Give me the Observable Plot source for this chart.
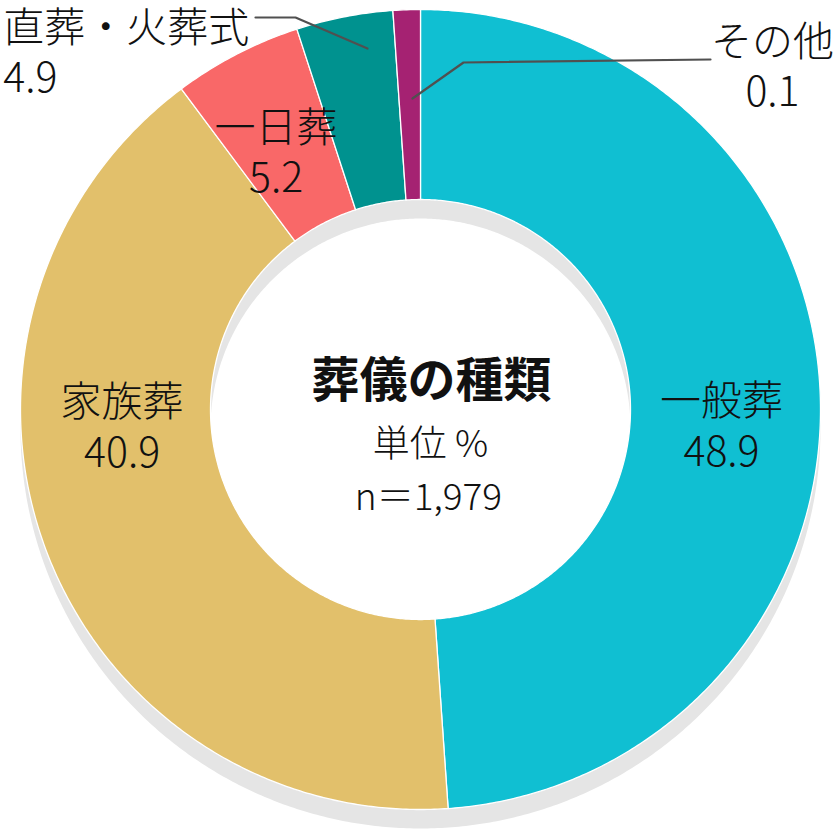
<!DOCTYPE html>
<html><head><meta charset="utf-8">
<script src="https://cdn.jsdelivr.net/npm/d3@7"></script>
<script src="https://cdn.jsdelivr.net/npm/@observablehq/plot@0.6"></script>
<style>
body{margin:0;background:#fff;}
#chart{width:840px;height:840px;}
</style>
</head><body><div id="chart"></div>
<script>
// ---- data ----
const categories = ["一般葬", "家族葬", "一日葬", "直葬・火葬式", "その他"];
const printedValues = [48.9, 40.9, 5.2, 4.9, 0.1];      // values printed on the labels
const arcShares = [48.9, 40.9, 5.2, 3.9, 1.1];          // arc widths as drawn in the picture
const colors = ["#10BFD2", "#E2C06B", "#F96868", "#00928F", "#A52272"];
const centerTitle = "葬儀の種類";
const centerUnit = "単位 %";
const centerN = "n＝1,979";

// ---- layout (unit circle coordinates, y down) ----
const R_IN = 0.525;
const labelLayout = [
  {pos: [0.7525, 0.0375], anchor: "middle"},
  {pos: [-0.746, 0.04], anchor: "middle"},
  {pos: [-0.361, -0.646], anchor: "middle"},
  {pos: [-1.043, -0.896], anchor: "start"},
  {pos: [0.88, -0.861], anchor: "middle"}
];
const leaders = [
  {cat: "直葬・火葬式", pts: [[-0.4125, -0.98], [-0.3125, -0.98], [-0.1325, -0.9025]]},
  {cat: "その他", pts: [[-0.02, -0.7775], [0.1075, -0.8675], [0.725, -0.875]]}
];

// ---- geometry built from the data ----
const total = d3.sum(arcShares);
const step = Math.PI / 360;
const slicePts = [];
let cum = 0;
categories.forEach((c, i) => {
  const a0 = cum / total * 2 * Math.PI;
  cum += arcShares[i];
  const a1 = cum / total * 2 * Math.PI;
  const n = Math.max(2, Math.ceil((a1 - a0) / step));
  const pts = [];
  for (let k = 0; k <= n; k++) { const a = a0 + (a1 - a0) * k / n; pts.push({cat: c, x: Math.sin(a), y: -Math.cos(a)}); }
  for (let k = n; k >= 0; k--) { const a = a0 + (a1 - a0) * k / n; pts.push({cat: c, x: R_IN * Math.sin(a), y: -R_IN * Math.cos(a)}); }
  pts.push({...pts[0]});
  slicePts.push(...pts);
});
const ring = [];
{
  const n = 720;
  for (let k = 0; k <= n; k++) { const a = 2 * Math.PI * k / n; ring.push({x: Math.sin(a), y: -Math.cos(a)}); }
  for (let k = n; k >= 0; k--) { const a = 2 * Math.PI * k / n; ring.push({x: R_IN * Math.sin(a), y: -R_IN * Math.cos(a)}); }
  ring.push({...ring[0]});
}
const leaderPts = leaders.flatMap(l => l.pts.map(([x, y]) => ({cat: l.cat, x, y})));

const labels = categories.map((c, i) => ({
  t: c + "\n" + printedValues[i].toFixed(1),
  x: labelLayout[i].pos[0], y: labelLayout[i].pos[1], anchor: labelLayout[i].anchor
}));

const font = "'Noto Sans CJK JP', 'Noto Sans', sans-serif";
const labelMarks = anchor => Plot.text(labels.filter(d => d.anchor === anchor), {
  x: "x", y: "y", text: "t", textAnchor: anchor, fontSize: 41, fontWeight: 300,
  lineHeight: 1.23, fill: "#111", lineAnchor: "middle"
});

const chart = Plot.plot({
  width: 840, height: 840, margin: 0,
  style: {fontFamily: font, background: "white", overflow: "visible"},
  x: {domain: [-1, 1], range: [20, 820], axis: null},
  y: {domain: [-1, 1], range: [9, 809], axis: null},
  color: {domain: categories, range: colors},
  marks: [
    Plot.line(ring, {x: "x", y: "y", fill: "#E5E5E5", stroke: "none", dy: 19}),
    Plot.line(slicePts, {x: "x", y: "y", z: "cat", fill: "cat", stroke: "white", strokeWidth: 1.3, curve: "linear"}),
    Plot.line(leaderPts, {x: "x", y: "y", z: "cat", stroke: "#505050", strokeWidth: 2.2}),
    labelMarks("middle"),
    labelMarks("start"),
    Plot.text([centerTitle], {x: () => 0.0275, y: () => -0.07, text: d => d, fontSize: 48, fontWeight: "bold", fill: "#111", lineAnchor: "middle"}),
    Plot.text([centerUnit], {x: () => 0.025, y: () => 0.09, text: d => d, fontSize: 37, fontWeight: 300, fill: "#111", lineAnchor: "middle"}),
    Plot.text([centerN], {x: () => 0.02, y: () => 0.222, text: d => d, fontSize: 37, fontWeight: 300, fill: "#111", lineAnchor: "middle"})
  ]
});
document.getElementById("chart").appendChild(chart);
</script>
</body></html>
